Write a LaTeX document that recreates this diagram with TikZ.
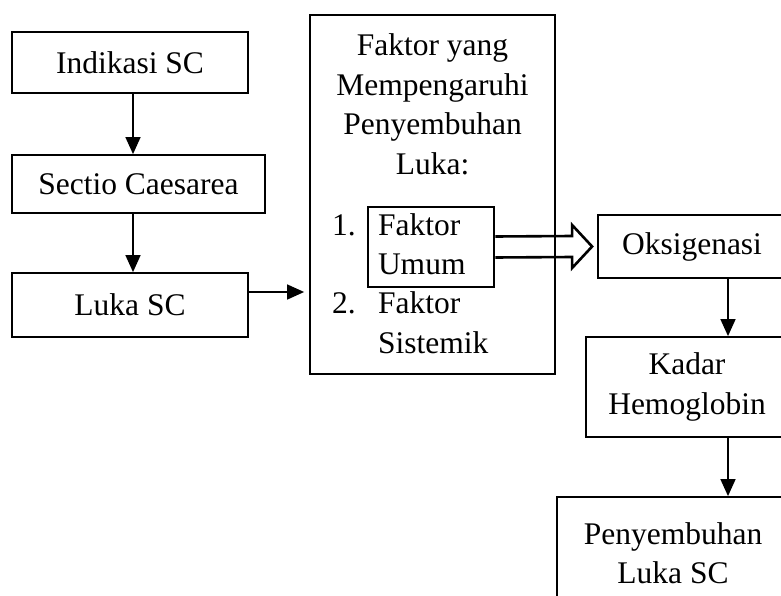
\documentclass[tikz,border=0pt]{standalone}
\usepackage{fontspec}
\setmainfont{Liberation Serif}
\usetikzlibrary{arrows.meta}

\begin{document}
\begin{tikzpicture}
		[
			x=1pt, y=-1pt,
			every node/.style={font=\fontsize{31.5}{39.5}\selectfont},
			box/.style={draw, line width=1.8pt, align=center, inner sep=0pt},
			item/.style={inner sep=0pt, anchor=base west},
			edge/.style={line width=1.5pt, -{Triangle[length=17pt,width=15pt]}},
			hollow/.style={line width=2.6pt, line join=miter},
		]

		\useasboundingbox (0,0) rectangle (781,596);

		% Nodes
		\node[box, minimum width=236, minimum height=61] (ind) at (130,62.5) {Indikasi SC};
		\node[box, minimum width=253, minimum height=58] (sec) at (138.5,184) {Sectio Caesarea};
		\node[box, minimum width=236, minimum height=64] (luka) at (130,305) {Luka SC};
		\node[box, minimum width=188, minimum height=63] (oks) at (692,246.5) {Oksigenasi};
		\node[box, minimum width=202, minimum height=100] (kadar) at (687,387) {Kadar\\Hemoglobin};
		\node[box, minimum width=232, minimum height=112] (peny) at (673,553) {Penyembuhan\\Luka SC};

		% Faktor box
		\node[box, minimum width=245, minimum height=359] (faktor) at (432.5,194.5) {};
		\node[anchor=north, align=center, inner sep=0pt] (judul) at (432.5,33.5)
			{Faktor yang\\Mempengaruhi\\Penyembuhan\\Luka:};
		\node[item] (n1) at (332,235) {1.};
		\node[draw, line width=2.8pt, text width=106, inner xsep=10pt, inner ysep=0pt,
			minimum height=80, align=left] (umum) at (431,247) {Faktor\\Umum\rule[-6pt]{0pt}{6pt}};
		\node[item] (n2) at (332,313) {2.};
		\node[anchor=north west, align=left, inner sep=0pt] (sistemik) at (378,291.5)
			{Faktor\\Sistemik};

		% Edges
		\draw[edge] ([xshift=3pt]ind.south) -- ([xshift=3pt]ind.south |- sec.north);
		\draw[edge] ([xshift=3pt]luka.north |- sec.south) -- ([xshift=3pt]luka.north);
		\draw[edge, shorten >=5pt] ([yshift=13pt]luka.east) -- ([yshift=13pt]luka.east -| faktor.west);

		\coordinate (kolom) at (728,0);
		\foreach \u/\v in
		{
			oks/kadar,
			kadar/peny}
			\draw[edge] (\u.south -| kolom) -- (\v.north -| kolom);

		% Hollow arrow
		\draw[hollow] ([yshift=10.5pt]umum.east)
			-- ([xshift=-25pt,yshift=10.5pt]oks.west)
			-- ([xshift=-25pt,yshift=21.5pt]oks.west)
			-- ([xshift=-5pt]oks.west)
			-- ([xshift=-25pt,yshift=-21.5pt]oks.west)
			-- ([xshift=-25pt,yshift=-10.5pt]oks.west)
			-- ([yshift=-10.5pt]umum.east);

		\end{tikzpicture}
\end{document}
